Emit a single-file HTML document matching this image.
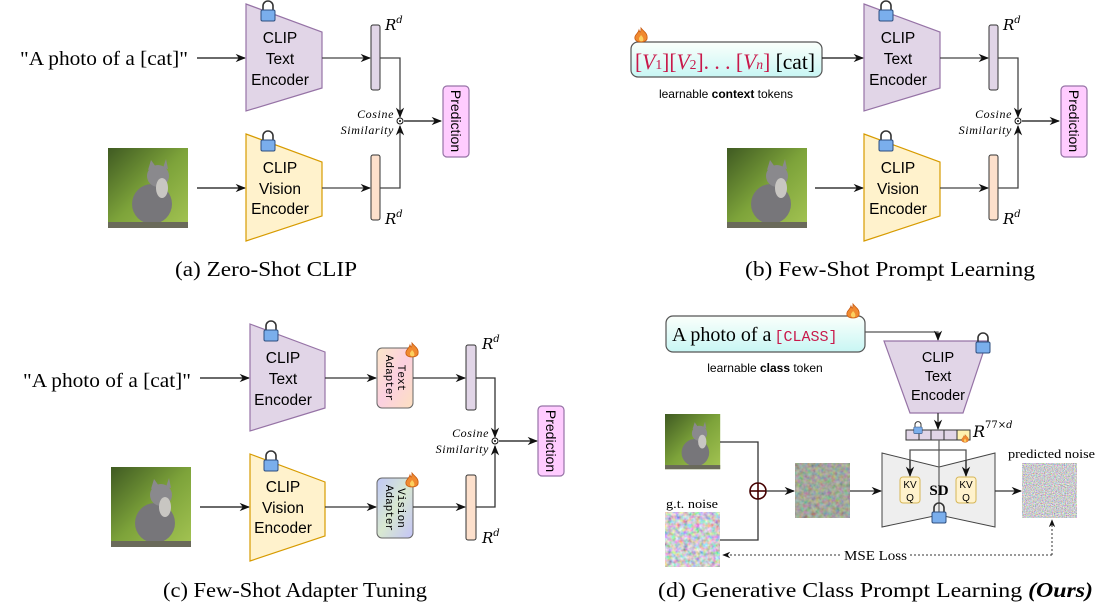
<!DOCTYPE html>
<html><head><meta charset="utf-8"><style>
body{margin:0;background:#fff}
svg{display:block}
.sf{font-family:"Liberation Serif",serif}
.ss{font-family:"Liberation Sans",sans-serif}
.rr{font-family:"DejaVu Serif","Liberation Serif",serif;font-style:italic}
</style></head><body>
<svg width="1109" height="611" viewBox="0 0 1109 611" xmlns="http://www.w3.org/2000/svg">
<defs>
<marker id="ar" viewBox="0 0 10 10" refX="9" refY="5" markerWidth="8" markerHeight="8" orient="auto"><path d="M0,1 L10,5 L0,9 L3,5z" fill="#111"/></marker>
<linearGradient id="cg" x1="0" y1="0" x2="1" y2="1"><stop offset="0" stop-color="#3f5a22"/><stop offset=".5" stop-color="#7da33a"/><stop offset="1" stop-color="#a4c453"/></linearGradient>
<linearGradient id="pg" x1="0" y1="0" x2="0" y2="1"><stop offset="0" stop-color="#fbfffb"/><stop offset="1" stop-color="#c8f6f4"/></linearGradient>
<linearGradient id="tag" x1="0" y1="0" x2="1" y2="1"><stop offset="0" stop-color="#fde7c8"/><stop offset=".5" stop-color="#fbd0e0"/><stop offset="1" stop-color="#fde0c0"/></linearGradient>
<linearGradient id="vag" x1="0" y1="0" x2="1" y2="1"><stop offset="0" stop-color="#c0c8f8"/><stop offset=".5" stop-color="#d8e8d0"/><stop offset="1" stop-color="#c4c4f8"/></linearGradient>
<filter id="nz" x="0" y="0" width="100%" height="100%"><feTurbulence type="fractalNoise" baseFrequency="0.9" numOctaves="2" seed="3"/><feColorMatrix type="matrix" values="1.4 0 0 0 -0.1  0 1.4 0 0 -0.1  0 0 1.4 0 -0.08  0 0 0 0 1"/></filter>
<filter id="nz2" x="0" y="0" width="100%" height="100%"><feTurbulence type="fractalNoise" baseFrequency="0.25" numOctaves="2" seed="7"/><feColorMatrix type="matrix" values="1.3 0 0 0 -0.05  0 1.2 0 0 0  0 0 1.3 0 -0.02  0 0 0 0 1"/></filter>
<g id="lock"><path d="M-5,0 v-4 a5,5 0 0 1 10,0 v4" fill="none" stroke="#333" stroke-width="1.6"/><rect x="-7" y="0" width="14" height="11" rx="1.5" fill="#7aaeec" stroke="#2f4f7f" stroke-width="1"/></g>
<g id="fire"><path d="M0,-8 C3,-4 7,-3 6,3 C5,7 -5,7 -6,3 C-7,-1 -3,-2 -2,-6 C-1,-3 0,-3 0,-8z" fill="#f08a30" stroke="#c85a10" stroke-width=".8"/><path d="M0,-1 C2,1 3,3 2,5 C0,6 -2,5 -2,3 C-2,1 -1,1 0,-1z" fill="#fbd060"/></g>
<g id="cat"><rect width="80" height="80" fill="url(#cg)"/><ellipse cx="44" cy="56" rx="20" ry="20" fill="#77767a"/><ellipse cx="50" cy="28" rx="11" ry="11" fill="#8a898d"/><path d="M40,22 l3,-10 l5,7z M55,20 l3,-9 l2,10z" fill="#8a898d"/><ellipse cx="54" cy="40" rx="6" ry="10" fill="#c8c6c2"/><rect y="74" width="80" height="6" fill="#6a6a5a"/></g>
</defs>

<!-- ===== Panel (a) ===== -->
<g id="pa">
<text x="20" y="65" class="sf" font-size="20" textLength="168" lengthAdjust="spacingAndGlyphs">"A photo of a [cat]"</text>
<line x1="197" y1="58" x2="245" y2="58" stroke="#111" stroke-width="1.3" marker-end="url(#ar)"/>
<polygon points="246,4 322,32 322,88 246,111" fill="#e1d5e7" stroke="#9673a6" stroke-width="1.2"/>
<use href="#lock" x="268" y="10"/>
<text class="ss" font-size="15.5" text-anchor="middle" x="280" y="43">CLIP</text>
<text class="ss" font-size="15.5" text-anchor="middle" x="280" y="64">Text</text>
<text class="ss" font-size="15.5" text-anchor="middle" x="280" y="85">Encoder</text>
<use href="#cat" x="108" y="148"/>
<line x1="197" y1="188" x2="245" y2="188" stroke="#111" stroke-width="1.3" marker-end="url(#ar)"/>
<polygon points="246,134 322,162 322,216 246,241" fill="#fff2cc" stroke="#d79b00" stroke-width="1.2"/>
<use href="#lock" x="268" y="140"/>
<text class="ss" font-size="15.5" text-anchor="middle" x="280" y="173">CLIP</text>
<text class="ss" font-size="15.5" text-anchor="middle" x="280" y="194">Vision</text>
<text class="ss" font-size="15.5" text-anchor="middle" x="280" y="214">Encoder</text>
<line x1="322" y1="58" x2="370" y2="58" stroke="#444" stroke-width="1.3" marker-end="url(#ar)"/>
<line x1="322" y1="188" x2="370" y2="188" stroke="#444" stroke-width="1.3" marker-end="url(#ar)"/>
<rect x="371" y="25" width="9" height="65" rx="2" fill="#e1d5e7" stroke="#333"/>
<rect x="371" y="155" width="9" height="65" rx="2" fill="#fde0cc" stroke="#333"/>
<text x="385" y="30" class="rr" font-size="15">R<tspan font-size="10" dy="-7">d</tspan></text>
<text x="385" y="224" class="rr" font-size="15">R<tspan font-size="10" dy="-7">d</tspan></text>
<polyline points="380,58 400,58 400,117" fill="none" stroke="#444" stroke-width="1.3" marker-end="url(#ar)"/>
<polyline points="380,188 400,188 400,126" fill="none" stroke="#444" stroke-width="1.3" marker-end="url(#ar)"/>
<circle cx="400" cy="121" r="3" fill="#fff" stroke="#111"/><circle cx="400" cy="121" r="1" fill="#111"/>
<line x1="404" y1="121" x2="441" y2="121" stroke="#111" stroke-width="1.3" marker-end="url(#ar)"/>
<text x="394" y="118" class="sf" font-style="italic" font-size="12" text-anchor="end" letter-spacing=".6">Cosine</text>
<text x="394" y="134" class="sf" font-style="italic" font-size="12" text-anchor="end" letter-spacing=".6">Similarity</text>
<rect x="443" y="86" width="26" height="71" rx="4" fill="#ffccff" stroke="#9673a6" stroke-width="1.2"/>
<text class="ss" font-size="14" text-anchor="middle" transform="translate(451,121) rotate(90)">Prediction</text>
<text x="175" y="276" class="sf" font-size="21" textLength="182" lengthAdjust="spacingAndGlyphs">(a) Zero-Shot CLIP</text>
</g>

<!-- ===== Panel (b) ===== -->
<g transform="translate(618,0)">
<polygon points="246,4 322,32 322,88 246,111" fill="#e1d5e7" stroke="#9673a6" stroke-width="1.2"/>
<use href="#lock" x="268" y="10"/>
<text class="ss" font-size="15.5" text-anchor="middle" x="280" y="43">CLIP</text>
<text class="ss" font-size="15.5" text-anchor="middle" x="280" y="64">Text</text>
<text class="ss" font-size="15.5" text-anchor="middle" x="280" y="85">Encoder</text>
<use href="#cat" x="109" y="148"/>
<line x1="197" y1="188" x2="245" y2="188" stroke="#111" stroke-width="1.3" marker-end="url(#ar)"/>
<polygon points="246,134 322,162 322,216 246,241" fill="#fff2cc" stroke="#d79b00" stroke-width="1.2"/>
<use href="#lock" x="268" y="140"/>
<text class="ss" font-size="15.5" text-anchor="middle" x="280" y="173">CLIP</text>
<text class="ss" font-size="15.5" text-anchor="middle" x="280" y="194">Vision</text>
<text class="ss" font-size="15.5" text-anchor="middle" x="280" y="214">Encoder</text>
<line x1="322" y1="58" x2="370" y2="58" stroke="#444" stroke-width="1.3" marker-end="url(#ar)"/>
<line x1="322" y1="188" x2="370" y2="188" stroke="#444" stroke-width="1.3" marker-end="url(#ar)"/>
<rect x="371" y="25" width="9" height="65" rx="2" fill="#e1d5e7" stroke="#333"/>
<rect x="371" y="155" width="9" height="65" rx="2" fill="#fde0cc" stroke="#333"/>
<text x="385" y="30" class="rr" font-size="15">R<tspan font-size="10" dy="-7">d</tspan></text>
<text x="385" y="224" class="rr" font-size="15">R<tspan font-size="10" dy="-7">d</tspan></text>
<polyline points="380,58 400,58 400,117" fill="none" stroke="#444" stroke-width="1.3" marker-end="url(#ar)"/>
<polyline points="380,188 400,188 400,126" fill="none" stroke="#444" stroke-width="1.3" marker-end="url(#ar)"/>
<circle cx="400" cy="121" r="3" fill="#fff" stroke="#111"/><circle cx="400" cy="121" r="1" fill="#111"/>
<line x1="404" y1="121" x2="441" y2="121" stroke="#111" stroke-width="1.3" marker-end="url(#ar)"/>
<text x="394" y="118" class="sf" font-style="italic" font-size="12" text-anchor="end" letter-spacing=".6">Cosine</text>
<text x="394" y="134" class="sf" font-style="italic" font-size="12" text-anchor="end" letter-spacing=".6">Similarity</text>
<rect x="443" y="86" width="26" height="71" rx="4" fill="#ffccff" stroke="#9673a6" stroke-width="1.2"/>
<text class="ss" font-size="14" text-anchor="middle" transform="translate(451,121) rotate(90)">Prediction</text>
</g>
<rect x="631" y="42" width="191" height="35" rx="7" fill="url(#pg)" stroke="#555" stroke-width="1.2"/>
<use href="#fire" x="641" y="36"/>
<text x="635" y="69" class="sf" font-size="22" textLength="180" lengthAdjust="spacingAndGlyphs"><tspan fill="#c8184a">[<tspan font-style="italic">V</tspan><tspan font-size="14">1</tspan>][<tspan font-style="italic">V</tspan><tspan font-size="14">2</tspan>]. . . [<tspan font-style="italic">V<tspan font-size="14">n</tspan></tspan>]</tspan> [cat]</text>
<line x1="822" y1="58" x2="863" y2="58" stroke="#111" stroke-width="1.3" marker-end="url(#ar)"/>
<text x="726" y="98" class="ss" font-size="12" text-anchor="middle">learnable <tspan font-weight="bold">context</tspan> tokens</text>
<text x="745" y="276" class="sf" font-size="21" textLength="290" lengthAdjust="spacingAndGlyphs">(b) Few-Shot Prompt Learning</text>

<!-- ===== Panel (c) ===== -->
<text x="23" y="387" class="sf" font-size="20" textLength="168" lengthAdjust="spacingAndGlyphs">"A photo of a [cat]"</text>
<line x1="200" y1="378" x2="249" y2="378" stroke="#111" stroke-width="1.3" marker-end="url(#ar)"/>
<polygon points="250,324 325,352 325,408 250,431" fill="#e1d5e7" stroke="#9673a6" stroke-width="1.2"/>
<use href="#lock" x="271" y="330"/>
<text class="ss" font-size="15.5" text-anchor="middle" x="283" y="363">CLIP</text>
<text class="ss" font-size="15.5" text-anchor="middle" x="283" y="384">Text</text>
<text class="ss" font-size="15.5" text-anchor="middle" x="283" y="405">Encoder</text>
<use href="#cat" x="111" y="467"/>
<line x1="200" y1="507" x2="249" y2="507" stroke="#111" stroke-width="1.3" marker-end="url(#ar)"/>
<polygon points="250,454 325,482 325,536 250,561" fill="#fff2cc" stroke="#d79b00" stroke-width="1.2"/>
<use href="#lock" x="271" y="460"/>
<text class="ss" font-size="15.5" text-anchor="middle" x="283" y="492">CLIP</text>
<text class="ss" font-size="15.5" text-anchor="middle" x="283" y="513">Vision</text>
<text class="ss" font-size="15.5" text-anchor="middle" x="283" y="533">Encoder</text>
<line x1="325" y1="378" x2="376" y2="378" stroke="#333" stroke-width="1.3" marker-end="url(#ar)"/>
<line x1="325" y1="507" x2="376" y2="507" stroke="#333" stroke-width="1.3" marker-end="url(#ar)"/>
<rect x="377" y="348" width="36" height="60" rx="5" fill="url(#tag)" stroke="#666"/>
<use href="#fire" x="412" y="351"/>
<text font-family="Liberation Mono" font-size="11" text-anchor="middle" transform="translate(395,378) rotate(90)"><tspan x="0" dy="-3">Text</tspan><tspan x="0" dy="12">Adapter</tspan></text>
<rect x="377" y="478" width="36" height="60" rx="5" fill="url(#vag)" stroke="#666"/>
<use href="#fire" x="412" y="481"/>
<text font-family="Liberation Mono" font-size="11" text-anchor="middle" transform="translate(395,508) rotate(90)"><tspan x="0" dy="-3">Vision</tspan><tspan x="0" dy="12">Adapter</tspan></text>
<line x1="413" y1="378" x2="465" y2="378" stroke="#333" stroke-width="1.3" marker-end="url(#ar)"/>
<line x1="413" y1="507" x2="465" y2="507" stroke="#333" stroke-width="1.3" marker-end="url(#ar)"/>
<rect x="466" y="345" width="10" height="65" rx="2" fill="#e1d5e7" stroke="#333"/>
<rect x="466" y="475" width="10" height="65" rx="2" fill="#fde0cc" stroke="#333"/>
<text x="482" y="349" class="rr" font-size="15">R<tspan font-size="10" dy="-7">d</tspan></text>
<text x="482" y="543" class="rr" font-size="15">R<tspan font-size="10" dy="-7">d</tspan></text>
<polyline points="476,378 495,378 495,437" fill="none" stroke="#333" stroke-width="1.3" marker-end="url(#ar)"/>
<polyline points="476,507 495,507 495,446" fill="none" stroke="#333" stroke-width="1.3" marker-end="url(#ar)"/>
<circle cx="495" cy="441" r="3" fill="#fff" stroke="#111"/><circle cx="495" cy="441" r="1" fill="#111"/>
<line x1="499" y1="441" x2="537" y2="441" stroke="#111" stroke-width="1.3" marker-end="url(#ar)"/>
<text x="489" y="437" class="sf" font-style="italic" font-size="12" text-anchor="end" letter-spacing=".6">Cosine</text>
<text x="489" y="453" class="sf" font-style="italic" font-size="12" text-anchor="end" letter-spacing=".6">Similarity</text>
<rect x="538" y="406" width="26" height="70" rx="4" fill="#ffccff" stroke="#9673a6" stroke-width="1.2"/>
<text class="ss" font-size="14" text-anchor="middle" transform="translate(546,441) rotate(90)">Prediction</text>
<text x="163" y="597" class="sf" font-size="21" textLength="264" lengthAdjust="spacingAndGlyphs">(c) Few-Shot Adapter Tuning</text>

<!-- ===== Panel (d) ===== -->
<rect x="666" y="316" width="199" height="36" rx="7" fill="url(#pg)" stroke="#555" stroke-width="1.2"/>
<use href="#fire" x="853" y="312"/>
<text x="672" y="341" class="sf" font-size="20">A photo of a<tspan font-family="Liberation Mono" font-size="15" fill="#c8184a" dx="3">[CLASS]</tspan></text>
<polyline points="865,332 938,332 938,340" fill="none" stroke="#555" stroke-width="1.3" marker-end="url(#ar)"/>
<text x="765" y="372" class="ss" font-size="12" text-anchor="middle">learnable <tspan font-weight="bold">class</tspan> token</text>
<polygon points="884,341 987,341 963,413 910,413" fill="#e1d5e7" stroke="#9673a6" stroke-width="1.2"/>
<use href="#lock" x="983" y="342"/>
<text class="ss" font-size="14.5" text-anchor="middle" x="938" y="362">CLIP</text>
<text class="ss" font-size="14.5" text-anchor="middle" x="938" y="381">Text</text>
<text class="ss" font-size="14.5" text-anchor="middle" x="938" y="400">Encoder</text>
<line x1="938" y1="413" x2="938" y2="429" stroke="#333" stroke-width="1.3" marker-end="url(#ar)"/>
<rect x="906" y="430" width="64" height="10" fill="#e1d5e7" stroke="#333"/>
<rect x="957" y="430" width="13" height="10" fill="#fff2b0" stroke="#333"/>
<line x1="919" y1="430" x2="919" y2="440" stroke="#333"/><line x1="931" y1="430" x2="931" y2="440" stroke="#333"/><line x1="944" y1="430" x2="944" y2="440" stroke="#333"/>
<g transform="translate(918,427) scale(.6)"><use href="#lock"/></g>
<g transform="translate(965,439) scale(.55)"><use href="#fire"/></g>
<text x="973" y="437" class="rr" font-size="16">R<tspan font-size="10" dy="-9" font-style="normal">77×</tspan><tspan font-size="10">d</tspan></text>
<polygon points="882,453 939,467 939,515 882,527" fill="#eeeeee" stroke="#444"/>
<polygon points="995,453 939,467 939,515 995,527" fill="#eeeeee" stroke="#444"/>
<line x1="939" y1="440" x2="939" y2="515" stroke="#666" stroke-width="1.3"/>
<polyline points="910,475 910,450 966,450 966,475" fill="none" stroke="#555" stroke-width="1.3"/>
<line x1="910" y1="460" x2="910" y2="476" stroke="#333" stroke-width="1.3" marker-end="url(#ar)"/>
<line x1="966" y1="460" x2="966" y2="476" stroke="#333" stroke-width="1.3" marker-end="url(#ar)"/>
<rect x="900" y="477" width="20" height="26" rx="3" fill="#fff2cc" stroke="#d6b656"/>
<rect x="956" y="477" width="20" height="26" rx="3" fill="#fff2cc" stroke="#d6b656"/>
<text class="ss" font-size="10" text-anchor="middle" x="910" y="488">KV</text><text class="ss" font-size="10" text-anchor="middle" x="910" y="501">Q</text>
<text class="ss" font-size="10" text-anchor="middle" x="966" y="488">KV</text><text class="ss" font-size="10" text-anchor="middle" x="966" y="501">Q</text>
<text class="sf" font-weight="bold" font-size="15" text-anchor="middle" x="939" y="495">SD</text>
<use href="#lock" x="939" y="512"/>
<use href="#cat" transform="translate(665,414) scale(.69)"/>
<text x="666" y="508" class="sf" font-size="13" textLength="52" lengthAdjust="spacingAndGlyphs">g.t. noise</text>
<rect x="665" y="512" width="55" height="55" filter="url(#nz2)"/>
<polyline points="720,442 758,442 758,540 720,540" fill="none" stroke="#333" stroke-width="1.3"/>
<circle cx="758" cy="491" r="8" fill="#fff" stroke="#400" stroke-width="1.6"/>
<line x1="750" y1="491" x2="766" y2="491" stroke="#400" stroke-width="1.6"/><line x1="758" y1="483" x2="758" y2="499" stroke="#400" stroke-width="1.6"/>
<line x1="766" y1="491" x2="794" y2="491" stroke="#333" stroke-width="1.3" marker-end="url(#ar)"/>
<rect x="795" y="463" width="55" height="55" fill="#6f7a5a"/>
<rect x="795" y="463" width="55" height="55" filter="url(#nz2)" opacity=".55"/>
<line x1="850" y1="491" x2="881" y2="491" stroke="#333" stroke-width="1.3" marker-end="url(#ar)"/>
<line x1="995" y1="491" x2="1021" y2="491" stroke="#333" stroke-width="1.3" marker-end="url(#ar)"/>
<text x="1008" y="458" class="sf" font-size="13" textLength="87" lengthAdjust="spacingAndGlyphs">predicted noise</text>
<rect x="1022" y="463" width="55" height="55" filter="url(#nz)"/>
<polyline points="1052,555 1052,520" fill="none" stroke="#333" stroke-width="1" stroke-dasharray="2,2" marker-end="url(#ar)"/>
<line x1="1052" y1="555" x2="910" y2="555" stroke="#333" stroke-width="1" stroke-dasharray="2,2"/>
<line x1="840" y1="555" x2="723" y2="555" stroke="#333" stroke-width="1" stroke-dasharray="2,2" marker-end="url(#ar)"/>
<text x="844" y="560" class="sf" font-size="14" textLength="63" lengthAdjust="spacingAndGlyphs">MSE Loss</text>
<text x="658" y="597" class="sf" font-size="21" textLength="435" lengthAdjust="spacingAndGlyphs">(d) Generative Class Prompt Learning <tspan font-weight="bold" font-style="italic">(Ours)</tspan></text>
</svg>
</body></html>
